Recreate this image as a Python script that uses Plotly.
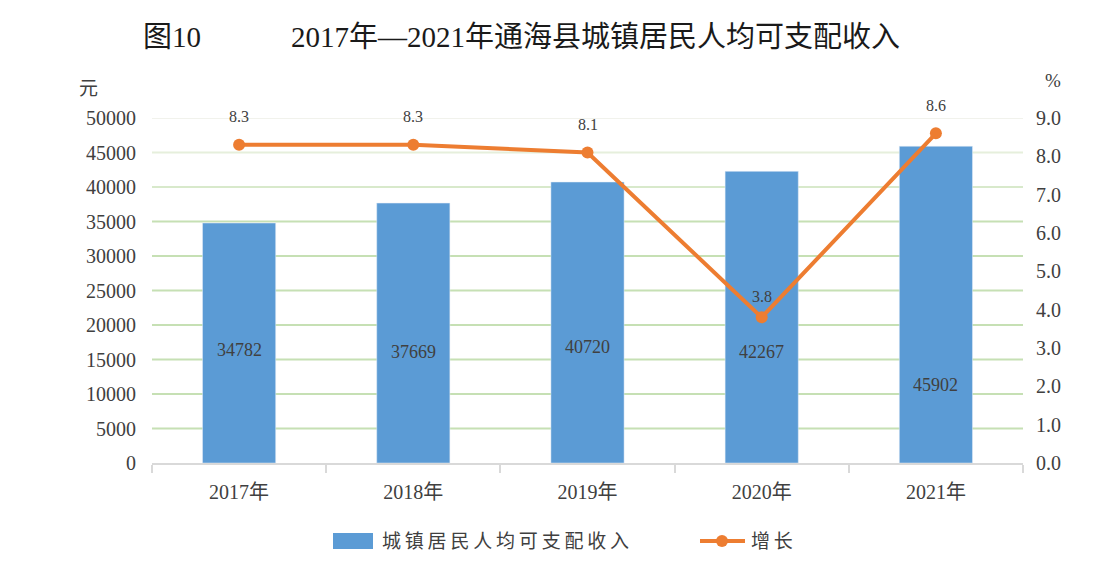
import plotly.graph_objects as go

years = ["2017年", "2018年", "2019年", "2020年", "2021年"]
income = [34782, 37669, 40720, 42267, 45902]
growth = [8.3, 8.3, 8.1, 3.8, 8.6]
left_ticks = [0, 5000, 10000, 15000, 20000, 25000, 30000, 35000, 40000, 45000, 50000]
right_ticks = [0, 1, 2, 3, 4, 5, 6, 7, 8, 9]

font_family = "Liberation Serif, Noto Sans CJK SC"
text_color = "#404040"
bar_color = "#5b9bd5"
line_color = "#ed7d31"

# plot area in page pixels (matches the reference); page body has an 8px margin
L, R, T, B = 152, 1023, 118, 463
W, H = 1117, 565
PAD = 8


def px(x):
    return (x - L) / (R - L)


def py(y):
    return (B - y) / (B - T)


fig = go.Figure()

fig.add_trace(go.Bar(
    x=years, y=income, name="城镇居民人均可支配收入",
    marker_color=bar_color, width=0.42, showlegend=False,
))

fig.add_trace(go.Scatter(
    x=years, y=growth, name="增长", yaxis="y2",
    mode="lines+markers", cliponaxis=False, showlegend=False,
    line=dict(color=line_color, width=4),
    marker=dict(color=line_color, size=12),
))

# value labels, placed roughly where the original chart had them
bar_label_y = [16400, 16100, 16800, 16100, 11300]
for yr, v, ly in zip(years, income, bar_label_y):
    fig.add_annotation(x=yr, y=ly, text=str(v), showarrow=False,
                       font=dict(size=18, color=text_color))

for yr, g in zip(years, growth):
    fig.add_annotation(x=yr, y=g, yref="y2", text=f"{g:.1f}", showarrow=False,
                       yshift=28 if g > 5 else 21,
                       font=dict(size=16, color=text_color))

# gridlines fade out towards the top, like the original
grid_colors = ["#c6e0b4"] * 8 + ["#d8e9cb", "#e6efdc", "#f1f2ec"]
for t, c in zip(left_ticks[1:], grid_colors[1:]):
    fig.add_shape(type="line", xref="paper", yref="y", x0=0, x1=1, y0=t, y1=t,
                  line=dict(color=c, width=2), layer="below")

fig.update_layout(
    width=W - PAD, height=H - PAD,
    margin=dict(l=L - PAD, r=W - R, t=T - PAD, b=H - B),
    plot_bgcolor="white", paper_bgcolor="white",
    font=dict(family=font_family, color=text_color, size=20),
    showlegend=False,
    xaxis=dict(
        type="category", showline=True, linecolor="#d9d9d9", linewidth=2,
        ticks="outside", tickson="boundaries", ticklen=8, tickcolor="#d9d9d9",
        tickwidth=2, tickfont=dict(size=20), showgrid=False, automargin=False,
        ticklabelstandoff=10,
    ),
    yaxis=dict(
        range=[0, 50000], tickvals=left_ticks, tickformat="d",
        showgrid=False, zeroline=False, tickfont=dict(size=20),
        ticklabelstandoff=15, automargin=False,
    ),
    yaxis2=dict(
        range=[0, 9], tickvals=right_ticks, tickformat=".1f",
        overlaying="y", side="right", showgrid=False, zeroline=False,
        tickfont=dict(size=20), ticklabelstandoff=12, automargin=False,
    ),
)

title_font = dict(size=29, color="#1a1a1a")
fig.add_annotation(text="图10", x=px(141), y=py(37), xref="paper", yref="paper",
                   showarrow=False, font=title_font, xanchor="left", yanchor="middle")
fig.add_annotation(text="2017年—2021年通海县城镇居民人均可支配收入",
                   x=px(595), y=py(37), xref="paper", yref="paper", showarrow=False,
                   font=title_font, xanchor="center", yanchor="middle")

fig.add_annotation(text="元", x=px(88), y=py(88), xref="paper", yref="paper",
                   showarrow=False, font=dict(size=19), xanchor="center", yanchor="middle")
fig.add_annotation(text="%", x=px(1053), y=py(80), xref="paper", yref="paper",
                   showarrow=False, font=dict(size=19), xanchor="center", yanchor="middle")

# legend drawn by hand: wide bar swatch and line-with-dot, as in the original
leg_y = 541
fig.add_shape(type="rect", xref="paper", yref="paper",
              x0=px(333), x1=px(373), y0=py(549), y1=py(533),
              fillcolor=bar_color, line_width=0)
fig.add_annotation(text="\u2009".join("城镇居民人均可支配收入"), x=px(380), y=py(leg_y),
                   xref="paper", yref="paper", showarrow=False,
                   font=dict(size=19), xanchor="left", yanchor="middle")
fig.add_shape(type="line", xref="paper", yref="paper",
              x0=px(700), x1=px(745), y0=py(leg_y), y1=py(leg_y),
              line=dict(color=line_color, width=4))
fig.add_shape(type="circle", xref="paper", yref="paper",
              x0=px(716), x1=px(728), y0=py(547), y1=py(535),
              fillcolor=line_color, line_width=0)
fig.add_annotation(text="\u2009".join("增长"), x=px(749), y=py(leg_y),
                   xref="paper", yref="paper", showarrow=False,
                   font=dict(size=19), xanchor="left", yanchor="middle")

fig.write_html("out.html")
